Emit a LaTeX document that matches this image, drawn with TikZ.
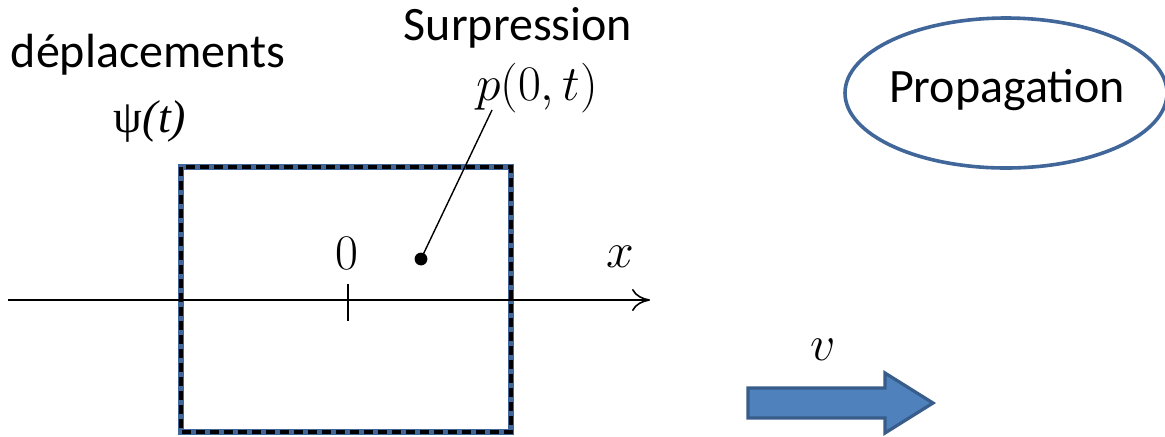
\documentclass[tikz,border=0pt]{standalone}
\usepackage{fontspec}
\setmainfont{Carlito}
\newfontfamily\tms{Liberation Serif}[ItalicFont={Liberation Serif Italic}]
\usetikzlibrary{arrows.meta}
\definecolor{edgeblue}{RGB}{65,103,154}
\definecolor{fillblue}{RGB}{79,129,189}
\definecolor{darkblue}{RGB}{56,93,138}
\begin{document}
\begin{tikzpicture}[x=0.5pt,y=-0.5pt,
  lbl/.style={inner sep=0pt,font=\fontsize{24}{28}\selectfont},
  mth/.style={inner sep=0pt,font=\fontsize{25}{30}\selectfont}]
\useasboundingbox (0,0) rectangle (1165,436);
% box
\draw[edgeblue,line width=2.8pt] (181,167) rectangle (511,432);
\draw[black,line width=1.6pt,dash pattern=on 4.5pt off 2.5pt] (181,167) rectangle (511,432);
% axis
\coordinate (ax0) at (8,300);
\coordinate (ax1) at (650,300);
\draw[line width=0.8pt,-{To[length=9pt,width=11pt,line width=0.8pt]}] (ax0) -- (ax1);
\coordinate (t0) at (348,284);
\coordinate (t1) at (348,321);
\draw[line width=0.8pt] (t0) -- (t1);
\node[mth] (zero) at (347,253) {$0$};
\node[mth] (xl) at (620,257) {$x$};
% point and leader
\coordinate (dot) at (421,259);
\fill (dot) circle (3.2pt);
\node[mth] (p) at (537,88) {$p(0,t)$};
\node[lbl] (surp) at (518,28) {Surpression};
\coordinate (lead) at (492,110);
\draw[line width=0.7pt] (dot) -- (lead);
% left labels
\node[lbl] (dep) at (148,55) {déplacements};
\node[inner sep=0pt,font=\fontsize{23}{28}\selectfont\tms] (psi) at (150,121) {ψ\textit{(t)}};
% ellipse
\coordinate (ell) at (1006,93);
\draw[edgeblue,line width=1.8pt] (ell) ellipse [x radius=161, y radius=75];
\node[lbl,anchor=base] (prop) at (1007,102) {Propagation};
% block arrow
\draw[fill=fillblue,draw=darkblue,line width=1.6pt,line join=miter]
  (748,388) -- (885,388) -- (885,373) -- (933,403) -- (885,433) -- (885,418) -- (748,418) -- cycle;
\node[mth] (v) at (823,350) {$v$};
\end{tikzpicture}
\end{document}
